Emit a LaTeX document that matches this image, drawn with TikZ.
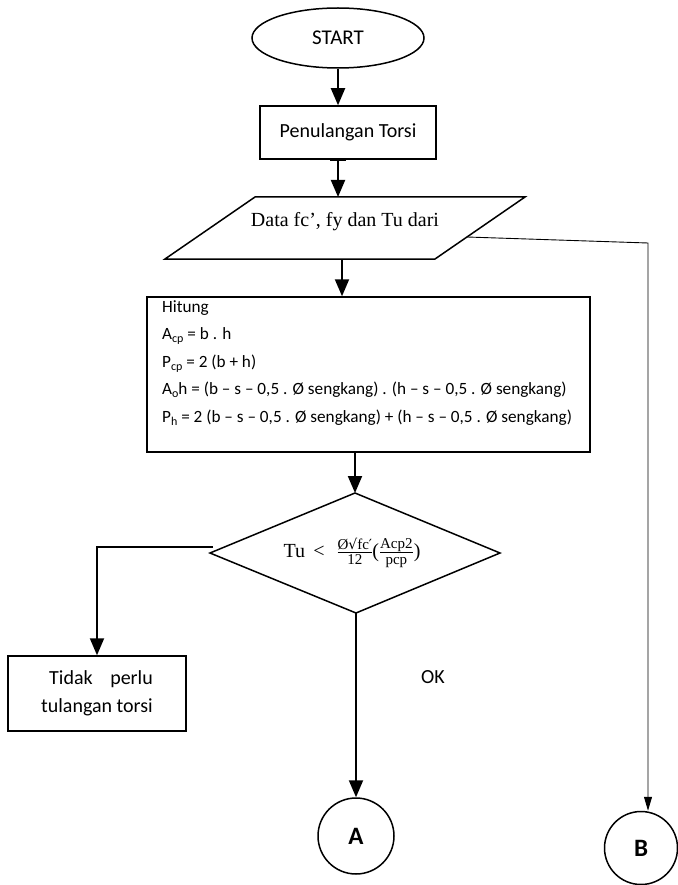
\documentclass[tikz,border=0pt]{standalone}
\usepackage{fontspec}
\setmainfont{Carlito}
\newfontfamily\tnr{Liberation Serif}
\newfontfamily\dvs{DejaVu Serif}
\usetikzlibrary{arrows.meta,shapes.geometric}
\newsavebox\tlbox
% small lowered index for the area/perimeter symbols
\newcommand\sbs[1]{\raisebox{-0.35ex}{\fontsize{12}{12}\selectfont #1}}
% small serif size used in the fractions
\newcommand\fr{\tnr\fontsize{15}{16}\selectfont}
\newcommand\frs{\dvs\fontsize{14}{16}\selectfont}
\begin{document}
\begin{tikzpicture}[x=1pt,y=-1pt,
  box/.style={draw,line width=1.5pt,inner sep=0pt},
  flow/.style={line width=1.9pt,-{Triangle[width=14pt,length=17pt]}},
  slim/.style={line width=0.9pt,-{Triangle[width=8pt,length=14pt]}},
  txt/.style={font=\fontsize{20}{28}\selectfont},
  htxt/.style={font=\fontsize{17.2}{27.6}\selectfont},
  stxt/.style={font=\tnr\fontsize{20}{24}\selectfont}]
\useasboundingbox (0,0) rectangle (677,885);

% terminator
\node[box,ellipse,minimum width=172pt,minimum height=60pt,font=\fontsize{21}{24}\selectfont] (start) at (338,38) {START};

% process box
\node[box,rectangle,minimum width=176pt,minimum height=53pt,txt] (pen) at (348,132.5) {Penulangan Torsi};

% input parallelogram
\coordinate (pTL) at (255,197);
\coordinate (pTR) at (525,197);
\coordinate (pBR) at (435,259);
\coordinate (pBL) at (165,259);
\draw[line width=1.5pt] (pTL) -- (pTR) -- (pBR) -- (pBL) -- cycle;
\node[stxt,inner sep=0pt] (data) at (345,222) {Data fc’, fy dan Tu dari};
\coordinate (pR) at (467,237);
\coordinate (pB) at (342,259);

% calculation box
\node[box,rectangle,minimum width=443pt,minimum height=155pt] (hit) at (368.5,374.5) {};
\node[htxt,align=left,anchor=north west,inner sep=0pt] (hittxt) at (162,300) {Hitung\\
A\sbs{cp} = b . h\\
P\sbs{cp} = 2 (b + h)\\
A\sbs{o}h = (b – s – 0,5 . Ø sengkang) . (h – s – 0,5 . Ø sengkang)\\
P\sbs{h} = 2 (b – s – 0,5 . Ø sengkang) + (h – s – 0,5 . Ø sengkang)};

% decision
\coordinate (dtop) at (355,493);
\coordinate (dright) at (500,553);
\coordinate (dbot) at (356,613);
\coordinate (dleft) at (210,553);
\draw[line width=1.5pt] (dtop) -- (dright) -- (dbot) -- (dleft) -- cycle;
\node[stxt,inner sep=0pt] (cond) at (352,553) {Tu \,<\,\, $\frac{\mbox{\fr Ø}\mbox{\frs √}\mbox{\fr fc}\mbox{\frs ′}}{\mbox{\fr 12}}$\kern-1pt(%
$\frac{\mbox{\fr Acp2}}{\mbox{\fr pcp}}$)};
\coordinate (lb) at (213,547);

% no-torsion result, first line spread to the width of the second
\node[box,rectangle,minimum width=178pt,minimum height=75pt,txt,align=center] (tidak) at (97,693.5)
  {\global\setbox\tlbox\hbox{tulangan torsi}\hbox to \wd\tlbox{\hspace{8pt}Tidak\hfill perlu}\\\copy\tlbox};

\node[txt,inner sep=0pt] (ok) at (433,677) {OK};

% connectors
\node[box,circle,minimum size=76pt,font=\bfseries\fontsize{25}{26}\selectfont] (A) at (356,836) {A};
\node[box,circle,minimum size=73pt,font=\bfseries\fontsize{25}{26}\selectfont] (B) at (641,848) {B};

% flow lines
\draw[flow] (start.south) -- (start.south |- pen.north);
\coordinate (t1) at (start.south |- pen.south);
\draw[line width=1.9pt] ([xshift=-8pt]t1) -- ([xshift=8pt]t1);
\draw[flow] (t1) -- (t1 |- pTL);
\draw[flow] (pB) -- (pB |- hit.north);
\draw[flow] (dtop |- hit.south) -- (dtop);
\draw[flow] (lb) -- (lb -| tidak.north) -- (tidak.north);
\draw[flow] (dbot) -- (dbot |- A.north);
\coordinate (bend) at (648,243);
\draw[slim] (pR) -- (bend) -- (bend |- B.north);
\end{tikzpicture}
\end{document}
